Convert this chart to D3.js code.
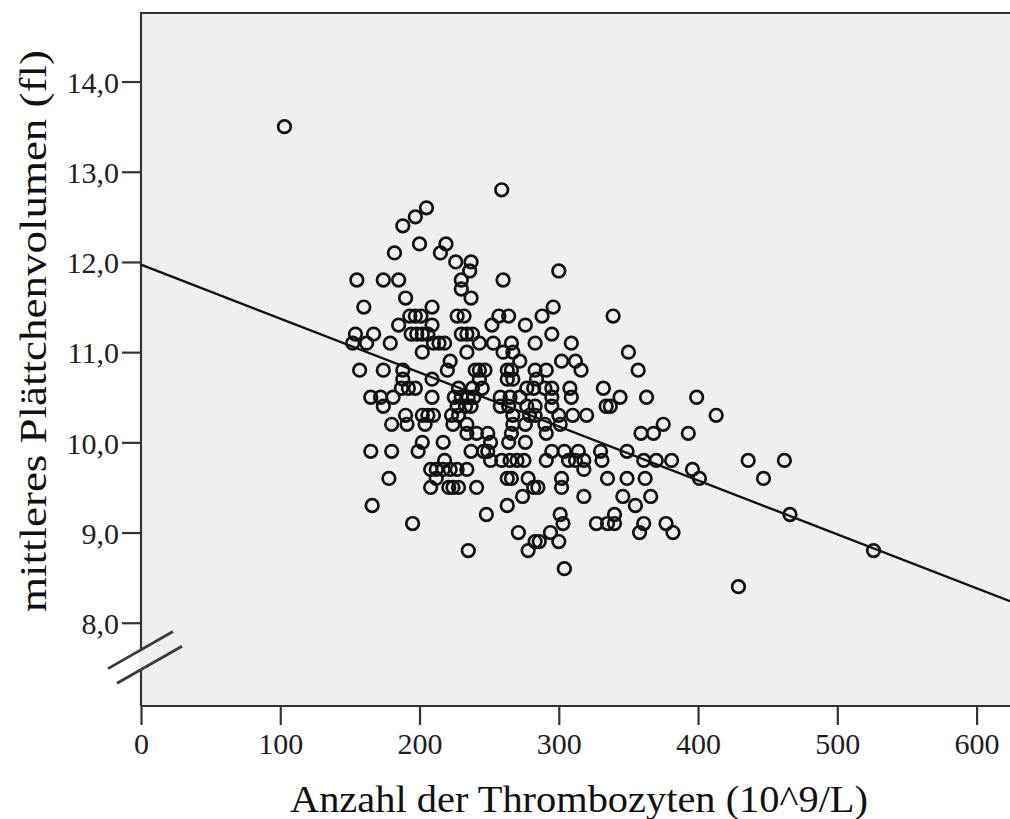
<!DOCTYPE html>
<meta charset="utf-8">
<style>
  body { margin: 0; background: #fff; }
  svg { display: block; }
  .tick text { font-family: "Liberation Serif", "Times New Roman", serif; fill: #1e1e1e; }
  .title { font-family: "Liberation Serif", "Times New Roman", serif; fill: #111; }
</style>
<svg width="1010" height="819"></svg>
<script src="https://cdn.jsdelivr.net/npm/d3@7"></script>
<script>

var width = 1010;
var height = 819;

// platelet count (10^9/L)
var plt = [
  103, 259, 205, 197, 188, 200, 219, 182, 215, 226, 237, 236, 300,
  155, 174, 185, 230, 260, 230, 190, 237, 160, 209, 296,
  193, 197, 201, 227, 232, 257, 264, 288, 339,
  185, 209, 252, 276,
  154, 167, 194, 198, 202, 206, 230, 234, 238, 295,
  152, 162, 179, 210, 214, 218, 243, 253, 266, 283, 309,
  202, 234, 260, 267, 350,
  222, 272, 302, 312,
  157, 174, 188, 220, 240, 243, 247, 263, 266, 283, 291, 316, 357,
  188, 209, 243, 263, 267, 284,
  187, 192, 197, 228, 238, 245, 277, 282, 290, 295, 308, 332,
  165, 172, 181, 209, 225, 230, 235, 239, 258, 265, 272, 295, 309, 344, 363, 399,
  174, 227, 233, 237, 258, 264, 277, 283, 295, 334, 337,
  190, 202, 206, 210, 223, 228, 267, 279, 283, 300, 310, 320, 413,
  180, 191, 204, 224, 234, 267, 276, 290, 301, 375,
  234, 241, 249, 266, 291, 359, 368, 393,
  202, 217, 251, 264, 276,
  165, 180, 199, 237, 246, 249, 295, 304, 314, 330, 349,
  218, 251, 259, 265, 270, 275, 291, 307, 312, 318, 331, 361, 370, 381, 436, 462,
  208, 212, 217, 222, 227, 234, 318, 396,
  178, 212, 263, 266, 278, 302, 335, 349, 362, 401, 447,
  208, 221, 224, 228, 241, 282, 285, 302,
  274, 318, 346, 366,
  166, 263, 355,
  248, 301, 340, 466,
  195, 303, 327, 335, 340, 361, 377,
  271, 294, 358, 382,
  283, 286, 300,
  235, 278, 526,
  304,
  429
];

// mean platelet volume (fl)
var mpv = [
  13.5, 12.8, 12.6, 12.5, 12.4, 12.2, 12.2, 12.1, 12.1, 12.0, 12.0, 11.9, 11.9,
  11.8, 11.8, 11.8, 11.8, 11.8, 11.7, 11.6, 11.6, 11.5, 11.5, 11.5,
  11.4, 11.4, 11.4, 11.4, 11.4, 11.4, 11.4, 11.4, 11.4,
  11.3, 11.3, 11.3, 11.3,
  11.2, 11.2, 11.2, 11.2, 11.2, 11.2, 11.2, 11.2, 11.2, 11.2,
  11.1, 11.1, 11.1, 11.1, 11.1, 11.1, 11.1, 11.1, 11.1, 11.1, 11.1,
  11.0, 11.0, 11.0, 11.0, 11.0,
  10.9, 10.9, 10.9, 10.9,
  10.8, 10.8, 10.8, 10.8, 10.8, 10.8, 10.8, 10.8, 10.8, 10.8, 10.8, 10.8, 10.8,
  10.7, 10.7, 10.7, 10.7, 10.7, 10.7,
  10.6, 10.6, 10.6, 10.6, 10.6, 10.6, 10.6, 10.6, 10.6, 10.6, 10.6, 10.6,
  10.5, 10.5, 10.5, 10.5, 10.5, 10.5, 10.5, 10.5, 10.5, 10.5, 10.5, 10.5, 10.5, 10.5, 10.5, 10.5,
  10.4, 10.4, 10.4, 10.4, 10.4, 10.4, 10.4, 10.4, 10.4, 10.4, 10.4,
  10.3, 10.3, 10.3, 10.3, 10.3, 10.3, 10.3, 10.3, 10.3, 10.3, 10.3, 10.3, 10.3,
  10.2, 10.2, 10.2, 10.2, 10.2, 10.2, 10.2, 10.2, 10.2, 10.2,
  10.1, 10.1, 10.1, 10.1, 10.1, 10.1, 10.1, 10.1,
  10.0, 10.0, 10.0, 10.0, 10.0,
  9.9, 9.9, 9.9, 9.9, 9.9, 9.9, 9.9, 9.9, 9.9, 9.9, 9.9,
  9.8, 9.8, 9.8, 9.8, 9.8, 9.8, 9.8, 9.8, 9.8, 9.8, 9.8, 9.8, 9.8, 9.8, 9.8, 9.8,
  9.7, 9.7, 9.7, 9.7, 9.7, 9.7, 9.7, 9.7,
  9.6, 9.6, 9.6, 9.6, 9.6, 9.6, 9.6, 9.6, 9.6, 9.6, 9.6,
  9.5, 9.5, 9.5, 9.5, 9.5, 9.5, 9.5, 9.5,
  9.4, 9.4, 9.4, 9.4,
  9.3, 9.3, 9.3,
  9.2, 9.2, 9.2, 9.2,
  9.1, 9.1, 9.1, 9.1, 9.1, 9.1, 9.1,
  9.0, 9.0, 9.0, 9.0,
  8.9, 8.9, 8.9,
  8.8, 8.8, 8.8,
  8.6,
  8.4
];

var xTicks = [0, 100, 200, 300, 400, 500, 600];
var yTicks = [8, 9, 10, 11, 12, 13, 14];

// fit line
var fitIntercept = 11.97;
var fitSlope = -0.00598;

var xTitle = "Anzahl der Thrombozyten (10^9/L)";
var yTitle = "mittleres Plättchenvolumen (fl)";

var plot = { left: 141, top: 13, right: 1010, bottom: 706 };

var x = d3.scaleLinear().domain([0, 624]).range([plot.left, plot.right]);
var y = d3.scaleLinear().domain([7.077, 14.76]).range([plot.bottom, plot.top]);

var svg = d3.select("svg");

svg.append("rect")
	.attr("x", plot.left)
	.attr("y", plot.top)
	.attr("width", plot.right - plot.left + 5)
	.attr("height", plot.bottom - plot.top)
	.attr("fill", "#efefef");

// frame: top + left
svg.append("path")
	.attr("d", "M" + (plot.right + 5) + "," + plot.top + "H" + plot.left + "V" + plot.bottom)
	.attr("fill", "none")
	.attr("stroke", "#333")
	.attr("stroke-width", 2.2);

// axes
var fmt = function(d) { return d.toFixed(1).replace(".", ","); };

var yAxis = svg.append("g")
	.attr("transform", "translate(" + plot.left + ",0)")
	.call(d3.axisLeft(y).tickValues(yTicks).tickSize(19).tickPadding(3).tickFormat(fmt));
yAxis.select(".domain").remove();

var xAxis = svg.append("g")
	.attr("transform", "translate(0," + plot.bottom + ")")
	.call(d3.axisBottom(x).tickValues(xTicks).tickSize(19).tickPadding(8).tickFormat(d3.format("d")));
xAxis.select(".domain")
	.attr("d", "M" + plot.left + ",0H" + (plot.right + 5))
	.attr("stroke", "#333")
	.attr("stroke-width", 2.2);

svg.selectAll(".tick line").attr("stroke", "#333").attr("stroke-width", 2.2);
svg.selectAll(".tick text").style("font-size", "30px");
yAxis.selectAll(".tick text").attr("dy", "0.36em");

// axis break on y
var b1 = y(7.7), b2 = y(7.48);
svg.append("rect")
	.attr("x", plot.left - 2)
	.attr("y", b1)
	.attr("width", 4)
	.attr("height", b2 - b1)
	.attr("fill", "#efefef");
[[b1, -33, 32], [b2, -24, 41]].forEach(function(b) {
	svg.append("line")
		.attr("x1", plot.left + b[1])
		.attr("y1", b[0] - b[1] * 0.57)
		.attr("x2", plot.left + b[2])
		.attr("y2", b[0] - b[2] * 0.57)
		.attr("stroke", "#3a3a3a")
		.attr("stroke-width", 2.8);
});

// points
var pts = plt.map(function(d, i) { return { plt: d, mpv: mpv[i] }; });

svg.append("g")
	.selectAll("circle")
	.data(pts)
	.join("circle")
	.attr("cx", function(d) { return x(d.plt); })
	.attr("cy", function(d) { return y(d.mpv); })
	.attr("r", 6.3)
	.attr("fill", "none")
	.attr("stroke", "#111")
	.attr("stroke-width", 2.7);

// fit line
svg.append("line")
	.attr("x1", x(0))
	.attr("y1", y(fitIntercept))
	.attr("x2", x(624))
	.attr("y2", y(fitIntercept + fitSlope * 624))
	.attr("stroke", "#111")
	.attr("stroke-width", 2.4);

// titles
svg.append("text")
	.attr("class", "title")
	.attr("x", 579)
	.attr("y", 812)
	.attr("text-anchor", "middle")
	.attr("textLength", 578)
	.attr("lengthAdjust", "spacingAndGlyphs")
	.style("font-size", "37px")
	.text(xTitle);

svg.append("text")
	.attr("class", "title")
	.attr("transform", "translate(46,331) rotate(-90)")
	.attr("text-anchor", "middle")
	.attr("textLength", 562)
	.attr("lengthAdjust", "spacingAndGlyphs")
	.style("font-size", "37px")
	.text(yTitle);

</script>
